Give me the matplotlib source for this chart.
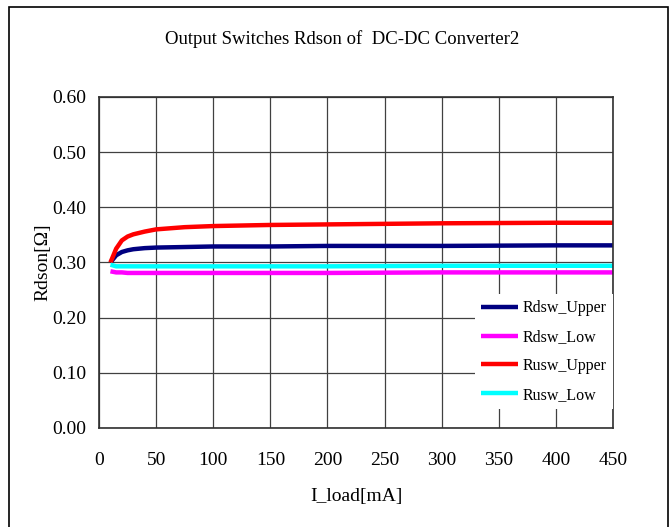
import matplotlib.pyplot as plt
from matplotlib.patches import Rectangle

plt.rcParams['font.family'] = ['Liberation Serif', 'DejaVu Serif']

# data
i_load = [10, 15, 20, 25, 30, 40, 50, 75, 100, 150, 200, 300, 400, 450]
rdsw_upper = [0.300, 0.313, 0.319, 0.322, 0.324, 0.326, 0.327, 0.328, 0.329, 0.329, 0.330, 0.330, 0.331, 0.331]
rdsw_low = [0.284, 0.282, 0.282, 0.281, 0.281, 0.281, 0.281, 0.281, 0.281, 0.281, 0.281, 0.282, 0.282, 0.282]
rusw_upper = [0.300, 0.325, 0.340, 0.347, 0.351, 0.356, 0.360, 0.364, 0.366, 0.368, 0.369, 0.371, 0.372, 0.372]
rusw_low = [0.296, 0.293, 0.293, 0.293, 0.293, 0.293, 0.293, 0.293, 0.293, 0.293, 0.293, 0.294, 0.294, 0.294]

series = [
    ("Rdsw_Upper", rdsw_upper, "#000080"),
    ("Rdsw_Low", rdsw_low, "#ff00ff"),
    ("Rusw_Upper", rusw_upper, "#ff0000"),
    ("Rusw_Low", rusw_low, "#00ffff"),
]

fig = plt.figure(figsize=(6.7, 5.27), dpi=100)
ax = fig.add_axes([0.1478, 0.1879, 0.7672, 0.6281])

# outer frame
fig.patches.append(Rectangle((9 / 670, -0.01), 659 / 670, 1 - 7 / 527 + 0.01,
                             transform=fig.transFigure, fill=False,
                             edgecolor="black", linewidth=1.2))

for name, vals, col in series:
    ax.plot(i_load, vals, color=col, linewidth=3.2, label=name,
            solid_capstyle="butt")

ax.set_xlim(0, 450)
ax.set_ylim(0, 0.6)
ax.set_xticks(range(0, 451, 50))
ax.set_yticks([i / 10 for i in range(7)])
ax.set_yticklabels([f"{i / 10:.2f}" for i in range(7)])
ax.grid(True, color="#404040", linewidth=0.9)
ax.set_axisbelow(True)
ax.tick_params(axis="both", length=0, labelsize=14)
ax.tick_params(axis="x", pad=17)
ax.tick_params(axis="y", pad=9)
for s in ax.spines.values():
    s.set_color("#303030")
    s.set_linewidth(1.2)

ax.set_xlabel("I_load[mA]", fontsize=14, labelpad=14)
ax.set_ylabel("Rdson[Ω]", fontsize=14, labelpad=1)
fig.text(0.51, 0.925, "Output Switches Rdson of  DC-DC Converter2",
         ha="center", va="center", fontsize=13.5)

leg = ax.legend(loc="lower right", bbox_to_anchor=(1.0, 0.057), frameon=True,
                fontsize=11.5, handlelength=2.3, handletextpad=0.3,
                labelspacing=0.8, borderpad=0.4, borderaxespad=0.0)
leg.get_frame().set_edgecolor("none")
leg.get_frame().set_facecolor("white")
leg.get_frame().set_alpha(1)
leg.get_frame().set_boxstyle("square", pad=0)

fig.savefig("out.png", dpi=100)
